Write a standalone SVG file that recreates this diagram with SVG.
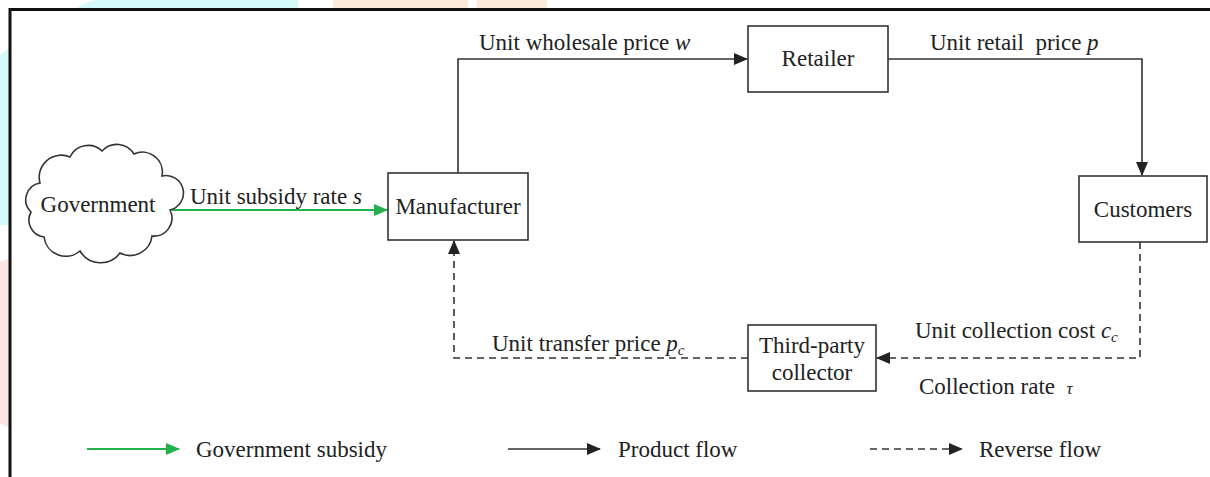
<svg xmlns="http://www.w3.org/2000/svg" width="1210" height="477" viewBox="0 0 1210 477">
<defs>
<style>
text{font-family:"Liberation Serif","Times New Roman",serif;font-size:23px;fill:#222;white-space:pre}
.box{fill:#fff;stroke:#333;stroke-width:1.6}
.ln{fill:none;stroke:#333;stroke-width:1.6}
.dash{fill:none;stroke:#333;stroke-width:1.6;stroke-dasharray:7,5}
.green{fill:none;stroke:#22b14c;stroke-width:1.8}
.c{text-anchor:middle}
.i{font-style:italic}
.sub{font-size:15px;font-style:italic}
</style>
<marker id="ab" markerWidth="14" markerHeight="12" refX="13" refY="6" orient="auto" markerUnits="userSpaceOnUse"><path d="M0,0 L14,6 L0,12 Z" fill="#222"/></marker>
<marker id="ag" markerWidth="14" markerHeight="12" refX="13" refY="6" orient="auto" markerUnits="userSpaceOnUse"><path d="M0,0 L14,6 L0,12 Z" fill="#22b14c"/></marker>
</defs>
<rect x="0" y="0" width="1210" height="477" fill="#fff"/>
<g id="bg-tints">
<path d="M75,9 L85,3 L95,0 L298,0 L298,9 Z" fill="#d4fafa"/>
<path d="M0,55 L10,48 L10,225 L0,225 Z" fill="#d4fafa"/>
<path d="M0,262 L10,258 L10,428 L6,426 L0,424 Z" fill="#fde4e4"/>
<rect x="333" y="0" width="135" height="9" fill="#fdebd9"/>
<rect x="477" y="0" width="70" height="9" fill="#fdebd9"/>
</g>
<path d="M10,477 L10,9.5 L1210,9.5" fill="none" stroke="#111" stroke-width="3"/>

<g id="connectors">
<line class="green" x1="172" y1="210" x2="387" y2="210" marker-end="url(#ag)"/>
<polyline class="ln" points="458,173 458,59 747,59" marker-end="url(#ab)"/>
<polyline class="ln" points="888,59 1142,59 1142,175" marker-end="url(#ab)"/>
<polyline class="dash" points="1140,242 1140,358 877,358" marker-end="url(#ab)"/>
<polyline class="dash" points="748,358 454,358 454,241" marker-end="url(#ab)"/>
</g>

<g id="government">
<path d="M40,183 A22,22 0 0 1 70,157 A20,20 0 0 1 102,151 A20,20 0 0 1 134,154 A20,20 0 0 1 162,176 A16,16 0 0 1 170,210 A18,18 0 0 1 152,236 A22,22 0 0 1 120,253 A24,24 0 0 1 80,251 A22,22 0 0 1 44,237 A17,17 0 0 1 31,212 A17,17 0 0 1 40,183 Z" fill="#fff" stroke="#333" stroke-width="1.6"/>
<text class="c" x="98" y="212">Government</text>
</g>
<g id="manufacturer">
<rect class="box" x="388" y="173" width="140" height="67"/>
<text class="c" x="458" y="214">Manufacturer</text>
</g>
<g id="retailer">
<rect class="box" x="748" y="26" width="140" height="66"/>
<text class="c" x="818" y="66">Retailer</text>
</g>
<g id="customers">
<rect class="box" x="1079" y="176" width="128" height="66"/>
<text class="c" x="1143" y="217">Customers</text>
</g>
<g id="collector">
<rect class="box" x="748" y="325" width="128" height="66"/>
<text class="c" x="812" y="353">Third-party</text>
<text class="c" x="812" y="380">collector</text>
</g>

<g id="labels">
<text x="190" y="204">Unit subsidy rate <tspan class="i">s</tspan></text>
<text x="479" y="50">Unit wholesale price <tspan class="i">w</tspan></text>
<text x="930" y="50">Unit retail  price <tspan class="i">p</tspan></text>
<text x="915" y="338">Unit collection cost <tspan class="i">c</tspan><tspan class="sub" dy="4">c</tspan></text>
<text x="919" y="394">Collection rate  <tspan class="i" font-size="17">τ</tspan></text>
<text x="492" y="351">Unit transfer price <tspan class="i">p</tspan><tspan class="sub" dy="4">c</tspan></text>
</g>

<g id="legend">
<line class="green" x1="87" y1="449" x2="179" y2="449" marker-end="url(#ag)"/>
<text x="196" y="457">Government subsidy</text>
<line class="ln" x1="508" y1="449" x2="600" y2="449" marker-end="url(#ab)"/>
<text x="618" y="457">Product flow</text>
<line class="dash" x1="870" y1="449" x2="962" y2="449" marker-end="url(#ab)"/>
<text x="979" y="457">Reverse flow</text>
</g>
</svg>
